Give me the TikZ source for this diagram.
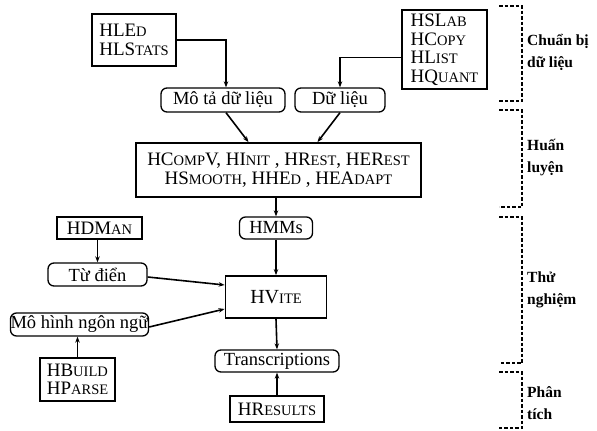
\documentclass[tikz,border=0pt]{standalone}
\usepackage{fontspec}
\setmainfont{Liberation Serif}
\usetikzlibrary{arrows.meta,calc}
\newcommand\sk[1]{{\fontsize{14.5}{14.5}\selectfont #1}}
\begin{document}
\begin{tikzpicture}[x=1pt,y=-1pt,
 box/.style={draw, line width=1.8pt, inner sep=0pt, align=left, font=\fontsize{19}{18.5}\selectfont},
 rbox/.style={draw, line width=1.3pt, rounded corners=6pt, inner sep=0pt, font=\fontsize{18.5}{18.5}\selectfont},
 arr/.style={line width=1.6pt, -{Stealth[length=6pt,width=4.5pt]}},
 phase/.style={line width=2.2pt, dash pattern=on 3.5pt off 2pt},
 plabel/.style={anchor=west, align=left, font=\bfseries\fontsize{15.5}{22}\selectfont, inner sep=0pt}]

\useasboundingbox (0,0) rectangle (597,431);

\node[box, minimum width=84pt, minimum height=52pt] (hled) at (134,40) {HLE\sk{D}\\HLS\sk{TATS}};
\node[box, minimum width=85pt, minimum height=79pt] (hslab) at (444.5,49.5) {HSL\sk{AB}\\HC\sk{OPY}\\HL\sk{IST}\\HQ\sk{UANT}};
\node[rbox, minimum width=124pt, minimum height=24pt] (mota) at (223,100) {Mô tả dữ liệu};
\node[rbox, minimum width=90pt, minimum height=24pt] (dulieu) at (340,100) {Dữ liệu};
\node[box, align=center, minimum width=285pt, minimum height=54pt] (train) at (278.5,170) {HC\sk{OMP}V, HI\sk{NIT} , HR\sk{EST}, HER\sk{EST}\\HS\sk{MOOTH}, HHE\sk{D} , HEA\sk{DAPT}};
\node[rbox, minimum width=73pt, minimum height=22pt] (hmms) at (276,228) {HMMs};
\node[box, minimum width=85pt, minimum height=22pt] (hdman) at (99.5,228) {HDM\sk{AN}};
\node[rbox, minimum width=99pt, minimum height=23pt] (tudien) at (97.5,274.5) {Từ điển};
\node[box, minimum width=101pt, minimum height=42pt, font=\fontsize{20}{20}\selectfont] (hvite) at (276,297) {HV\sk{ITE}};
\node[rbox, minimum width=135pt, minimum height=23pt] (lm) at (79.5,324.5) {Mô hình ngôn ngữ};
\node[box, minimum width=75pt, minimum height=43pt] (hbuild) at (77.5,379.5) {HB\sk{UILD}\\HP\sk{ARSE}};
\node[rbox, minimum width=124pt, minimum height=22pt] (trans) at (277,361) {Transcriptions};
\node[box, minimum width=94pt, minimum height=26pt] (hres) at (277,409) {HR\sk{ESULTS}};

\draw[arr] (hled.east) -| ([xshift=3pt]mota.north);
\draw[arr] ([yshift=-8pt]hslab.west) -| (dulieu.north);
\draw[arr] ([xshift=3pt]mota.south) -- ([xshift=-30pt]train.north);
\draw[arr] (dulieu.south) -- ([xshift=39pt]train.north);
\draw[arr] (train.south -| hmms.north) -- (hmms.north);
\draw[arr] (hmms.south) -- (hvite.north);
\draw[arr] (hdman.south -| tudien.north) -- (tudien.north);
\draw[arr] ([yshift=-2.5pt]tudien.east) -- ([yshift=12pt]hvite.west);
\draw[arr] ([yshift=-2.5pt]lm.east) -- ([yshift=-12pt]hvite.west);
\draw[arr] (hbuild.north) -- (hbuild.north |- lm.south);
\draw[arr] (hvite.south) -- (trans.north);
\draw[arr] (hres.north) -- (trans.south);

\draw[phase] (499,6) -- (522,6) -- (522,101) -- (499,101);
\draw[phase] (499,110) -- (522,110) -- (522,207) -- (499,207);
\draw[phase] (499,217) -- (522,217) -- (522,363) -- (499,363);
\draw[phase] (499,372) -- (522,372) -- (522,428) -- (499,428);

\node[plabel] (l1) at (527,52) {Chuẩn bị\\dữ liệu};
\node[plabel] (l2) at (527,158) {Huấn\\luyện};
\node[plabel] (l3) at (527,290) {Thử\\nghiệm};
\node[plabel] (l4) at (527,403) {Phân\\tích};
\end{tikzpicture}
\end{document}
